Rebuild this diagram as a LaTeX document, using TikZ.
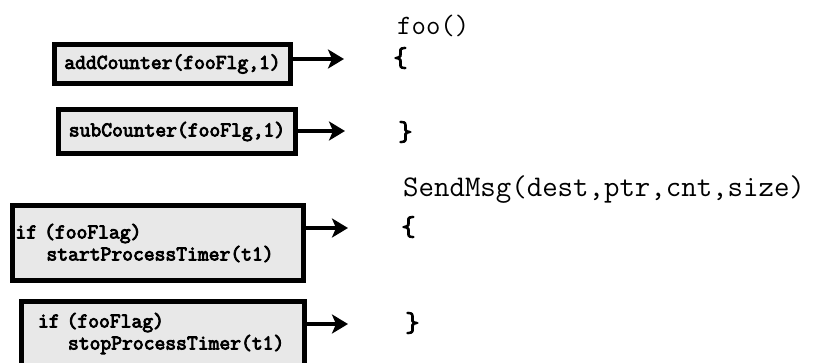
\documentclass[tikz,border=0pt]{standalone}
\usepackage{fontspec}
\newfontfamily\boldmono{Latin Modern Mono}[FakeBold=4]
\newfontfamily\bracemono{Latin Modern Mono}[FakeBold=3]
\usetikzlibrary{arrows.meta}
\tikzset{
  codebox/.style={draw=black, line width=5pt, fill=black!9, rectangle, inner sep=0pt,
    font=\boldmono\fontsize{21}{22}\selectfont},
  code/.style={inner sep=0pt, anchor=west, font=\ttfamily\fontsize{30}{32}\selectfont},
  brace/.style={inner sep=0pt, anchor=west, font=\bracemono\fontsize{28}{30}\selectfont},
  arr/.style={line width=4.5pt, -{Stealth[length=16pt,width=19pt,inset=4pt]}}
}
\begin{document}
\begin{tikzpicture}[x=1pt,y=-1pt]
\useasboundingbox (0,0) rectangle (816,362);
% boxes
\node[codebox, minimum width=236pt, minimum height=39pt] (add) at (172.5,64) {addCounter(fooFlg,1)};
\node[codebox, minimum width=237pt, minimum height=44pt] (sub) at (177,131.5) {subCounter(fooFlg,1)};
\node[codebox, minimum width=291pt, minimum height=75pt, text width=285pt, inner xsep=3pt, align=left] (start) at (158,243)
  {if (fooFlag)\\\hspace*{31pt}startProcessTimer(t1)};
\node[codebox, minimum width=283pt, minimum height=64pt, text width=278pt, inner xsep=2.5pt, align=left] (stop) at (163,333.5)
  {\hspace*{14pt}if (fooFlag)\\\hspace*{44pt}stopProcessTimer(t1)};
% code on the right
\node[code, font=\ttfamily\fontsize{28}{30}\selectfont] (foo) at (397,26) {foo()};
\node[brace] (lb1) at (393,58) {\{};
\node[brace] (rb1) at (398,132) {\}};
\node[code] (send) at (403,190) {SendMsg(dest,ptr,cnt,size)};
\node[brace] (lb2) at (401,227) {\{};
\node[brace] (rb2) at (405,323) {\}};
% arrow tips
\coordinate (t1) at (344,59);
\coordinate (t2) at (345,131);
\coordinate (t3) at (348,228);
\coordinate (t4) at (348,324);
\draw[arr] (add.east |- t1) -- (t1);
\draw[arr] (sub.east |- t2) -- (t2);
\draw[arr] (start.east |- t3) -- (t3);
\draw[arr] (stop.east |- t4) -- (t4);
\end{tikzpicture}
\end{document}
